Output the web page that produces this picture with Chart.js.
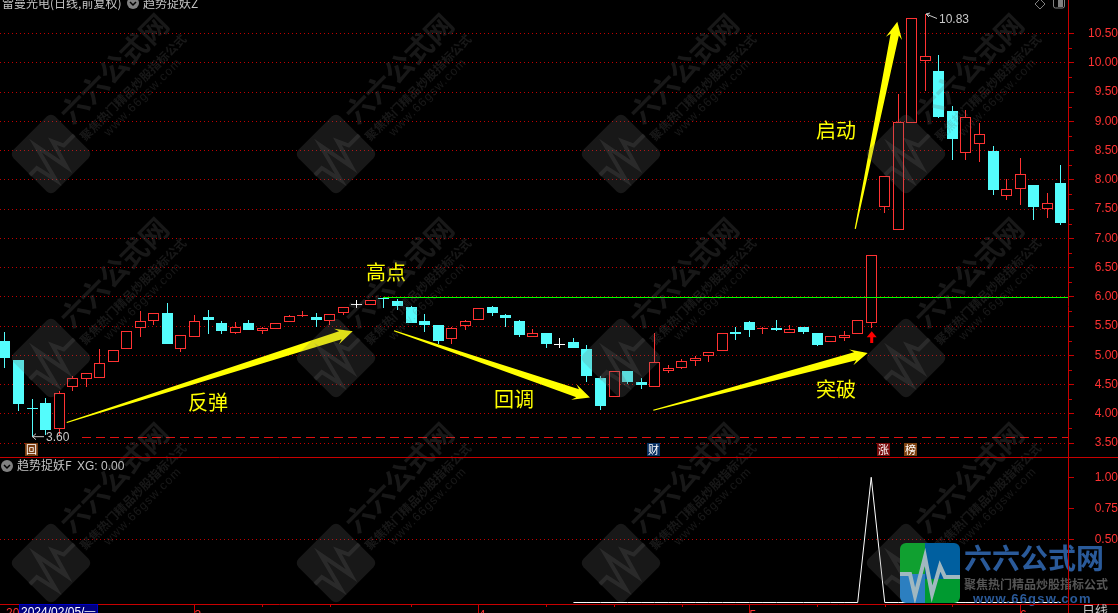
<!DOCTYPE html>
<html lang="zh">
  <head>
    <meta charset="utf-8" />
    <title>雷曼光电</title>
    <script src="https://cdn.jsdelivr.net/npm/chart.js@4"></script>
    <style>
      html, body { margin: 0; padding: 0; background: #000; overflow: hidden; }
      canvas { display: block; }
    </style>
  </head>
  <body>
    <canvas id="myChart" width="1118" height="613"></canvas>
    <script>
      const opens = [5.25, 4.92, 4.09, 4.18, 3.74, 4.45, 4.59, 4.62, 4.88, 5.10,
        5.46, 5.59, 5.73, 5.10, 5.31, 5.66, 5.56, 5.38, 5.56, 5.41,
        5.45, 5.57, 5.67, 5.66, 5.59, 5.72, 5.86, 5.86, 5.98, 5.92,
        5.83, 5.59, 5.52, 5.28, 5.50, 5.61, 5.83, 5.68, 5.59, 5.32,
        5.38, 5.17, 5.23, 5.11, 4.61, 4.28, 4.73, 4.55, 4.45, 4.73,
        4.79, 4.90, 4.98, 5.08, 5.39, 5.57, 5.45, 5.47, 5.38, 5.48,
        5.38, 5.22, 5.29, 5.36, 5.55, 7.53, 7.14, 8.97, 10.03, 9.86,
        9.18, 8.45, 8.61, 8.49, 7.72, 7.84, 7.91, 7.50, 7.95];
      const closes = [4.96, 4.16, 4.08, 3.72, 4.35, 4.61, 4.69, 4.86, 5.09, 5.42,
        5.59, 5.72, 5.20, 5.35, 5.59, 5.61, 5.41, 5.48, 5.43, 5.47,
        5.55, 5.67, 5.69, 5.60, 5.70, 5.82, 5.86, 5.95, 5.97, 5.84,
        5.56, 5.51, 5.24, 5.47, 5.59, 5.81, 5.72, 5.63, 5.34, 5.38,
        5.20, 5.17, 5.12, 4.65, 4.14, 4.73, 4.55, 4.50, 4.88, 4.79,
        4.90, 4.95, 5.05, 5.38, 5.36, 5.44, 5.47, 5.44, 5.45, 5.39,
        5.18, 5.33, 5.34, 5.60, 6.71, 8.06, 8.98, 10.76, 10.12, 9.08,
        8.70, 9.07, 8.78, 7.82, 7.84, 8.10, 7.53, 7.60, 7.26];
      const highs = [5.39, 4.92, 4.25, 4.27, 4.39, 4.65, 4.69, 5.10, 5.09, 5.42,
        5.75, 5.72, 5.90, 5.35, 5.68, 5.78, 5.59, 5.57, 5.61, 5.49,
        5.55, 5.69, 5.75, 5.73, 5.70, 5.82, 5.95, 5.95, 6.00, 5.96,
        5.85, 5.71, 5.52, 5.49, 5.61, 5.81, 5.85, 5.71, 5.60, 5.45,
        5.38, 5.29, 5.29, 5.17, 4.65, 4.73, 4.73, 4.62, 5.38, 4.83,
        4.94, 4.99, 5.05, 5.38, 5.49, 5.59, 5.49, 5.61, 5.52, 5.48,
        5.38, 5.33, 5.41, 5.60, 6.71, 8.06, 9.46, 10.76, 10.83, 10.13,
        9.26, 9.19, 8.97, 8.58, 8.01, 8.37, 7.91, 7.78, 8.26];
      const lows = [4.79, 4.05, 3.60, 3.63, 3.63, 4.39, 4.46, 4.62, 4.88, 5.10,
        5.32, 5.51, 5.20, 5.06, 5.31, 5.37, 5.37, 5.36, 5.43, 5.37,
        5.45, 5.57, 5.65, 5.49, 5.51, 5.69, 5.80, 5.86, 5.80, 5.77,
        5.56, 5.39, 5.20, 5.20, 5.43, 5.61, 5.67, 5.49, 5.32, 5.32,
        5.13, 5.13, 5.12, 4.55, 4.07, 4.28, 4.51, 4.43, 4.45, 4.70,
        4.77, 4.82, 4.89, 5.08, 5.26, 5.32, 5.37, 5.41, 5.38, 5.37,
        5.15, 5.22, 5.25, 5.36, 5.47, 7.44, 7.14, 8.97, 9.52, 9.05,
        8.34, 8.34, 8.31, 7.74, 7.66, 7.57, 7.32, 7.35, 7.22];
      const xgValues = [null, null, null, null, null, null, null, null, null, null,
        null, null, null, null, null, null, null, null, null, null,
        null, null, null, null, null, null, null, null, null, null,
        null, null, null, null, null, null, null, null, null, null,
        null, null, 0, 0, 0, 0, 0, 0, 0, 0,
        0, 0, 0, 0, 0, 0, 0, 0, 0, 0,
        0, 0, 0, 0, 1, 0, 0, 0, 0, 0,
        0, 0, 0, 0, 0, 0, 0, 0, 0];

      const priceTicks = [3.5, 4, 4.5, 5, 5.5, 6, 6.5, 7, 7.5, 8, 8.5, 9, 9.5, 10, 10.5];
      const priceMinorTicks = [3.75, 4.25, 4.75, 5.25, 5.75, 6.25, 6.75, 7.25, 7.75, 8.25, 8.75, 9.25, 9.75, 10.25];
      const xgTicks = [0.5, 0.75, 1];
      const monthTicks = [14, 35, 55, 75];
      const monthLabels = ["3", "4", "5", "6"];
      const weekTicks = [19, 24, 30, 40, 45, 50, 60, 65, 70];

      const highLine = [{ x: 27.93, y: 6 }, { x: 78.54, y: 6 }];
      const lowLine = [{ x: 5.69, y: 3.6 }, { x: 78.54, y: 3.6 }];

      // [from index, from price, to index, to price]
      const arrows = [
        [4.56, 3.85, 25.69, 5.41],
        [28.74, 5.42, 43.22, 4.28],
        [47.9, 4.06, 63.74, 5.04],
        [62.82, 7.16, 65.93, 10.7],
      ];
      const notes = [
        ["反弹", 15.0, 4.2],
        ["高点", 28.15, 6.42],
        ["回调", 37.61, 4.25],
        ["突破", 61.4, 4.42],
        ["启动", 61.4, 8.85],
      ];
      const badges = [
        ["回", 1.93, "#7a3c10"],
        ["财", 47.87, "#0a3264"],
        ["涨", 64.87, "#780a0a"],
        ["榜", 66.87, "#7c4210"],
      ];

      const RED = "#ff3232";
      const CYAN = "#54fcfc";
      const RULE = "#c80000";
      const CJK = '"Noto Sans CJK SC"';
      const LATIN = '"Liberation Sans"';

      const indexes = opens.map((v, i) => i);
      const candleColor = indexes.map((i) =>
        closes[i] === opens[i] ? "#ffffff" : closes[i] > opens[i] ? RED : CYAN
      );
      const bodyFill = indexes.map((i) => (closes[i] > opens[i] ? "#000000" : candleColor[i]));

      // candles look soft on fractional pixels, so snap them after layout
      const snapPlugin = {
        id: "snap",
        afterDatasetsUpdate(chart) {
          chart.getSortedVisibleDatasetMetas().forEach((meta) => {
            if (meta.type === "bar") {
              meta.data.forEach((el) => {
                el.x = Math.floor(el.x) + 0.5;
                el.y = Math.round(el.y);
                el.base = Math.round(el.base);
                if (el.base === el.y) el.base = el.y + 1;
              });
            } else if (meta.data.length === 2) {
              meta.data.forEach((pt) => {
                pt.y = Math.round(pt.y) + 0.5;
              });
            }
          });
        },
      };

      function drawArrow(ctx, x0, y0, x1, y1) {
        const a = Math.atan2(y1 - y0, x1 - x0);
        const len = Math.hypot(x1 - x0, y1 - y0);
        ctx.save();
        ctx.translate(x0, y0);
        ctx.rotate(a);
        ctx.fillStyle = "#ffff00";
        ctx.beginPath();
        ctx.moveTo(0, -0.6);
        ctx.lineTo(len - 13, -4.2);
        ctx.lineTo(len - 17, -8.2);
        ctx.lineTo(len, 0);
        ctx.lineTo(len - 17, 8.2);
        ctx.lineTo(len - 13, 4.2);
        ctx.lineTo(0, 0.6);
        ctx.closePath();
        ctx.fill();
        ctx.restore();
      }

      function roundBox(ctx, x, y, w, h, r) {
        ctx.beginPath();
        ctx.roundRect(x, y, w, h, r);
      }

      function heartLine(ctx) {
        const pts = [[-30, 0], [-20, 0], [-15, 22], [-5, -17], [2, 20], [10, -8], [15, 3], [30, 3]];
        ctx.beginPath();
        pts.forEach((p, i) => (i ? ctx.lineTo(p[0], p[1]) : ctx.moveTo(p[0], p[1])));
        ctx.stroke();
      }

      function drawWatermark(ctx) {
        ctx.save();
        ctx.beginPath();
        ctx.rect(0, 0, 1068, 604);
        ctx.clip();
        const tint = "rgba(110,110,110,0.22)";
        [51, 336, 621, 906].forEach((cx) => {
          [154, 358, 563].forEach((cy) => {
            ctx.save();
            ctx.translate(cx, cy);
            ctx.rotate(-Math.PI / 4);
            ctx.fillStyle = tint;
            ctx.strokeStyle = tint;
            ctx.lineWidth = 4;
            roundBox(ctx, -29.5, -29.5, 59, 59, 6);
            ctx.fill();
            heartLine(ctx);
            ctx.textAlign = "center";
            ctx.textBaseline = "middle";
            ctx.font = "bold 28px " + CJK;
            ctx.fillText("六六公式网", 105, -16);
            ctx.font = "bold 12px " + CJK;
            ctx.fillText("聚焦热门精品炒股指标公式", 105, 11);
            ctx.font = "12px " + LATIN;
            ctx.letterSpacing = "1.2px";
            ctx.fillText("www.66gsw.com", 105, 25);
            ctx.restore();
          });
        });
        ctx.restore();
      }

      function drawLogo(ctx) {
        ctx.save();
        roundBox(ctx, 900, 543, 60, 60, 6);
        ctx.clip();
        ctx.fillStyle = "#10a030";
        ctx.fillRect(900, 543, 25, 31);
        ctx.fillStyle = "#005f9f";
        ctx.fillRect(925, 543, 35, 36);
        ctx.fillStyle = "#2c7fc0";
        ctx.fillRect(900, 574, 25, 29);
        ctx.fillStyle = "#009a30";
        ctx.fillRect(925, 579, 35, 24);
        ctx.translate(930, 574);
        ctx.strokeStyle = "#a0b8c0";
        ctx.lineWidth = 4;
        heartLine(ctx);
        ctx.restore();

        ctx.save();
        ctx.textBaseline = "middle";
        ctx.fillStyle = "#2a5a9a";
        ctx.font = "bold 28px " + CJK;
        ctx.fillText("六六公式网", 964, 558);
        ctx.fillStyle = "#555555";
        ctx.font = "bold 12px " + CJK;
        ctx.fillText("聚焦热门精品炒股指标公式", 964, 584);
        ctx.fillStyle = "#2a5a9a";
        ctx.font = "bold 13px " + LATIN;
        ctx.letterSpacing = "1.2px";
        ctx.fillText("www.66gsw.com", 973, 599);
        ctx.restore();
      }

      const overlayPlugin = {
        id: "overlay",
        afterDraw(chart) {
          const ctx = chart.ctx;
          const xp = (i) => chart.scales.x.getPixelForValue(i);
          const yp = (p) => chart.scales.y.getPixelForValue(p);

          // short ticks between the labelled ones
          ctx.save();
          ctx.strokeStyle = RULE;
          ctx.lineWidth = 1;
          priceMinorTicks.forEach((p) => {
            const y = Math.round(yp(p)) + 0.5;
            ctx.beginPath();
            ctx.moveTo(1068, y);
            ctx.lineTo(1072, y);
            ctx.stroke();
          });
          weekTicks.forEach((i) => {
            const x = Math.round(xp(i)) + 0.5;
            ctx.beginPath();
            ctx.moveTo(x, 604);
            ctx.lineTo(x, 607);
            ctx.stroke();
          });
          ctx.restore();

          arrows.forEach((a) => drawArrow(ctx, xp(a[0]), yp(a[1]), xp(a[2]), yp(a[3])));

          ctx.save();
          ctx.fillStyle = "#ffff00";
          ctx.font = "20px " + CJK;
          ctx.textAlign = "center";
          ctx.textBaseline = "middle";
          notes.forEach((n) => ctx.fillText(n[0], xp(n[1]), yp(n[2])));
          ctx.restore();

          // breakout signal under the limit-up candle
          ctx.save();
          const sx = xp(64) + 0.5;
          ctx.fillStyle = "#ff0000";
          ctx.beginPath();
          ctx.moveTo(sx, yp(5.41));
          ctx.lineTo(sx + 5, yp(5.31));
          ctx.lineTo(sx + 1.5, yp(5.31));
          ctx.lineTo(sx + 1.5, yp(5.21));
          ctx.lineTo(sx - 1.5, yp(5.21));
          ctx.lineTo(sx - 1.5, yp(5.31));
          ctx.lineTo(sx - 5, yp(5.31));
          ctx.closePath();
          ctx.fill();
          ctx.restore();

          // highest and lowest price labels
          ctx.save();
          ctx.strokeStyle = "#c8c8c8";
          ctx.fillStyle = "#c8c8c8";
          ctx.lineWidth = 1;
          ctx.font = "12px " + LATIN;
          ctx.textBaseline = "middle";
          const lowY = yp(3.6) - 0.5;
          ctx.beginPath();
          ctx.moveTo(32.5, lowY);
          ctx.lineTo(44, lowY);
          ctx.moveTo(36, lowY - 3);
          ctx.lineTo(32.5, lowY);
          ctx.lineTo(36, lowY + 3);
          ctx.stroke();
          ctx.fillText("3.60", 46, lowY + 1);
          ctx.beginPath();
          ctx.moveTo(926, 14);
          ctx.lineTo(937, 18.5);
          ctx.moveTo(930, 13);
          ctx.lineTo(926, 14);
          ctx.lineTo(929, 17);
          ctx.stroke();
          ctx.fillText("10.83", 939, 19.5);
          ctx.restore();

          ctx.save();
          ctx.font = "11px " + CJK;
          ctx.textAlign = "center";
          ctx.textBaseline = "middle";
          badges.forEach((b) => {
            const x = Math.round(xp(b[1]));
            ctx.fillStyle = b[2];
            ctx.fillRect(x - 6, 443, 13, 13);
            ctx.fillStyle = "#ffffff";
            ctx.fillText(b[0], x + 0.5, 449.5);
          });
          ctx.restore();

          // title lines
          ctx.save();
          ctx.fillStyle = "#c4c4c4";
          ctx.font = "12px " + CJK;
          ctx.textBaseline = "alphabetic";
          ctx.fillText("雷曼光电(日线,前复权)", 2, 8);
          ctx.fillText("趋势捉妖Z", 143, 8);
          ctx.fillText("趋势捉妖F", 17, 470);
          ctx.font = "12px " + LATIN;
          ctx.fillText("XG: 0.00", 77, 470);
          [[133, 3], [7, 466]].forEach((c) => {
            ctx.fillStyle = "#808080";
            ctx.beginPath();
            ctx.arc(c[0], c[1], 6, 0, Math.PI * 2);
            ctx.fill();
            ctx.strokeStyle = "#000000";
            ctx.lineWidth = 1.5;
            ctx.beginPath();
            ctx.moveTo(c[0] - 3, c[1] - 1);
            ctx.lineTo(c[0], c[1] + 2);
            ctx.lineTo(c[0] + 3, c[1] - 1);
            ctx.stroke();
          });
          // little toolbar glyphs in the corner
          ctx.strokeStyle = "#808080";
          ctx.lineWidth = 1;
          ctx.beginPath();
          ctx.moveTo(1040, -1);
          ctx.lineTo(1045, 4);
          ctx.lineTo(1040, 9);
          ctx.lineTo(1035, 4);
          ctx.closePath();
          ctx.stroke();
          roundBox(ctx, 1053.5, -3, 11, 11, 2);
          ctx.stroke();
          ctx.fillStyle = "#808080";
          ctx.fillRect(1058, -1, 5, 8);
          ctx.restore();

          drawWatermark(ctx);
          drawLogo(ctx);

          // pane rules and the bottom strip
          ctx.save();
          ctx.strokeStyle = RULE;
          ctx.lineWidth = 1;
          ctx.beginPath();
          ctx.moveTo(0, 457.5);
          ctx.lineTo(1118, 457.5);
          ctx.moveTo(0, 604.5);
          ctx.lineTo(1118, 604.5);
          ctx.moveTo(1068.5, 0);
          ctx.lineTo(1068.5, 613);
          ctx.stroke();
          ctx.fillStyle = "#000080";
          ctx.fillRect(20, 605, 77, 8);
          ctx.strokeStyle = "#0000c8";
          ctx.strokeRect(19.5, 604.5, 78, 10);
          ctx.font = "12px " + LATIN;
          ctx.textBaseline = "top";
          ctx.fillStyle = "#ffffff";
          ctx.fillText("2024/02/05/一", 21, 607);
          ctx.fillStyle = RED;
          ctx.fillText("20", 6, 608);
          ctx.fillStyle = "#c4c4c4";
          ctx.font = "13px " + CJK;
          ctx.fillText("日线", 1082, 604);
          ctx.restore();
        },
      };

      const config = {
        type: "bar",
        data: {
          datasets: [
            {
              type: "line",
              data: highLine,
              borderColor: "#00ff00",
              borderWidth: 1,
              pointRadius: 0,
              yAxisID: "y",
            },
            {
              type: "line",
              data: lowLine,
              borderColor: "#e01010",
              borderWidth: 1,
              borderDash: [9, 5],
              pointRadius: 0,
              yAxisID: "y",
            },
            {
              type: "line",
              data: indexes.map((i) => ({ x: i, y: xgValues[i] })),
              borderColor: "#ffffff",
              borderWidth: 1,
              pointRadius: 0,
              tension: 0,
              yAxisID: "y2",
            },
            {
              label: "body",
              data: indexes.map((i) => ({ x: i, y: [opens[i], closes[i]] })),
              backgroundColor: bodyFill,
              borderColor: candleColor,
              borderWidth: 1,
              borderSkipped: false,
              inflateAmount: 0,
              barThickness: 11,
              minBarLength: 1,
              grouped: false,
              yAxisID: "y",
            },
            {
              label: "wick",
              data: indexes.map((i) => ({ x: i, y: [lows[i], highs[i]] })),
              backgroundColor: candleColor,
              borderWidth: 0,
              inflateAmount: 0,
              barThickness: 1,
              grouped: false,
              yAxisID: "y",
            },
          ],
        },
        options: {
          responsive: false,
          animation: false,
          layout: { padding: 0 },
          plugins: { legend: { display: false }, tooltip: { enabled: false } },
          scales: {
            x: {
              type: "linear",
              offset: false,
              min: -0.369,
              max: 78.54,
              afterBuildTicks(scale) {
                scale.ticks = monthTicks.map((v) => ({ value: v }));
              },
              afterFit(scale) {
                scale.height = 9;
                scale.paddingLeft = 0;
                scale.paddingRight = 0;
              },
              border: { display: false },
              grid: { drawOnChartArea: false, tickLength: 9, tickColor: RULE, offset: false },
              ticks: {
                autoSkip: false,
                maxRotation: 0,
                align: "start",
                padding: -5,
                color: RED,
                font: { family: "Liberation Sans", size: 12 },
                callback: (v) => monthLabels[monthTicks.indexOf(v)],
              },
            },
            y: {
              position: "right",
              stack: "panes",
              stackWeight: 458,
              min: 3.244,
              max: 11.073,
              afterBuildTicks(scale) {
                scale.ticks = priceTicks.map((v) => ({ value: v }));
              },
              afterFit(scale) {
                scale.width = 50;
                scale.paddingTop = 0;
                scale.paddingBottom = 0;
              },
              border: { display: false, dash: [1, 3] },
              grid: { color: "#c00000", tickColor: RULE, tickLength: 6, tickBorderDash: [] },
              ticks: {
                autoSkip: false,
                crossAlign: "far",
                padding: 5,
                color: RED,
                font: { family: "Liberation Sans", size: 12 },
                callback: (v) => v.toFixed(2),
              },
            },
            y2: {
              position: "right",
              stack: "panes",
              stackWeight: 146,
              min: -0.012,
              max: 1.154,
              afterBuildTicks(scale) {
                scale.ticks = xgTicks.map((v) => ({ value: v }));
              },
              afterFit(scale) {
                scale.width = 50;
                scale.paddingTop = 0;
                scale.paddingBottom = 0;
              },
              border: { display: false, dash: [1, 3] },
              grid: {
                color: (ctx) => (ctx.tick && ctx.tick.value === 0.5 ? "#c00000" : "rgba(0,0,0,0)"),
                tickColor: RULE,
                tickLength: 6,
                tickBorderDash: [],
              },
              ticks: {
                autoSkip: false,
                crossAlign: "far",
                padding: 12,
                color: RED,
                font: { family: "Liberation Sans", size: 12 },
                callback: (v) => v.toFixed(2),
              },
            },
          },
        },
        plugins: [snapPlugin, overlayPlugin],
      };

      var myChart = new Chart(document.getElementById("myChart"), config);
    </script>
  </body>
</html>
